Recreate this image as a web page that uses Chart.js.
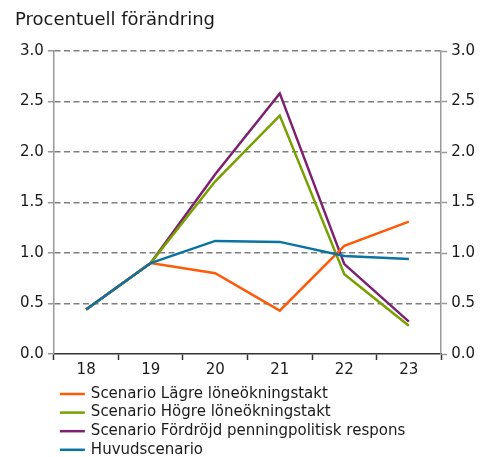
<!DOCTYPE html>
<html>
<head>
<meta charset="utf-8">
<script src="https://cdn.jsdelivr.net/npm/chart.js@4/dist/chart.umd.min.js"></script>
<style>
  html, body { margin: 0; padding: 0; background: #fff; }
  #wrap { width: 489px; height: 457px; }
</style>
</head>
<body>
<div id="wrap"><canvas id="c" width="489" height="457"></canvas></div>
<script>
const years = ['18', '19', '20', '21', '22', '23'];
const lagre = [0.44, 0.90, 0.80, 0.43, 1.07, 1.31];
const hogre = [0.44, 0.90, 1.71, 2.36, 0.79, 0.28];
const fordrojd = [0.44, 0.90, 1.78, 2.58, 0.89, 0.32];
const huvud = [0.44, 0.90, 1.12, 1.11, 0.97, 0.94];
const seriesNames = [
  'Scenario Lägre löneökningstakt',
  'Scenario Högre löneökningstakt',
  'Scenario Fördröjd penningpolitisk respons',
  'Huvudscenario'
];
const seriesColors = ['#ff5a0a', '#78a000', '#7d2070', '#0a73a0'];
const titleText = 'Procentuell förändring';

const FONT = '"DejaVu Sans", Verdana, sans-serif';
const TEXT = '#1a1a1a';

const values = [lagre, hogre, fordrojd, huvud];
// main scenario sits on top of the others
const drawOrder = [1, 2, 3, 0];

const datasets = values.map((v, i) => ({
  label: seriesNames[i],
  data: v,
  borderColor: seriesColors[i],
  backgroundColor: seriesColors[i],
  borderWidth: 2.5,
  pointRadius: 0,
  tension: 0,
  fill: false,
  order: drawOrder[i]
}));

const titleAndLegend = {
  id: 'titleAndLegend',
  afterDraw(chart) {
    const ctx = chart.ctx;
    const area = chart.chartArea;
    ctx.save();
    ctx.fillStyle = TEXT;
    ctx.font = '18px ' + FONT;
    ctx.textBaseline = 'middle';
    ctx.textAlign = 'left';
    ctx.fillText(titleText, 15, 20);

    ctx.font = '15px ' + FONT;
    const x0 = area.left + 6;
    const y0 = area.bottom + 40;
    seriesNames.forEach((name, i) => {
      const y = y0 + i * 18.6;
      ctx.strokeStyle = seriesColors[i];
      ctx.lineWidth = 2.5;
      ctx.beginPath();
      ctx.moveTo(x0, y);
      ctx.lineTo(x0 + 25, y);
      ctx.stroke();
      ctx.fillStyle = TEXT;
      ctx.fillText(name, x0 + 31, y);
    });
    ctx.restore();
  }
};

const yTicks = {
  stepSize: 0.5,
  color: TEXT,
  padding: 4,
  font: { family: FONT, size: 15 },
  callback: v => Number(v).toFixed(1)
};

new Chart(document.getElementById('c'), {
  type: 'line',
  data: { labels: years, datasets },
  options: {
    responsive: false,
    animation: false,
    layout: { padding: { top: 51, left: 16, right: 10, bottom: 77 } },
    plugins: {
      legend: { display: false },
      title: { display: false },
      tooltip: { enabled: false }
    },
    scales: {
      x: {
        type: 'category',
        offset: true,
        grid: {
          display: true,
          drawOnChartArea: false,
          drawTicks: true,
          tickLength: 6,
          tickColor: '#333',
          tickWidth: 1.5,
          offset: true
        },
        border: { display: true, color: '#333', width: 1.5 },
        ticks: { color: TEXT, padding: 1, font: { family: FONT, size: 15 } }
      },
      y: {
        position: 'left',
        min: 0,
        max: 3,
        grid: {
          color: c => (c.tick && c.tick.value === 0 ? 'rgba(0,0,0,0)' : '#7f7f7f'),
          lineWidth: 1.5,
          tickLength: 6,
          tickColor: '#999',
          tickWidth: 1.5,
          tickBorderDash: []
        },
        border: { display: true, color: '#9a9a9a', width: 1.5, dash: [6, 3.5] },
        ticks: yTicks
      },
      y2: {
        position: 'right',
        min: 0,
        max: 3,
        grid: {
          drawOnChartArea: false,
          tickLength: 6,
          tickColor: '#999',
          tickWidth: 1.5
        },
        border: { display: true, color: '#9a9a9a', width: 1.5 },
        ticks: yTicks
      }
    }
  },
  plugins: [titleAndLegend]
});
</script>
</body>
</html>
